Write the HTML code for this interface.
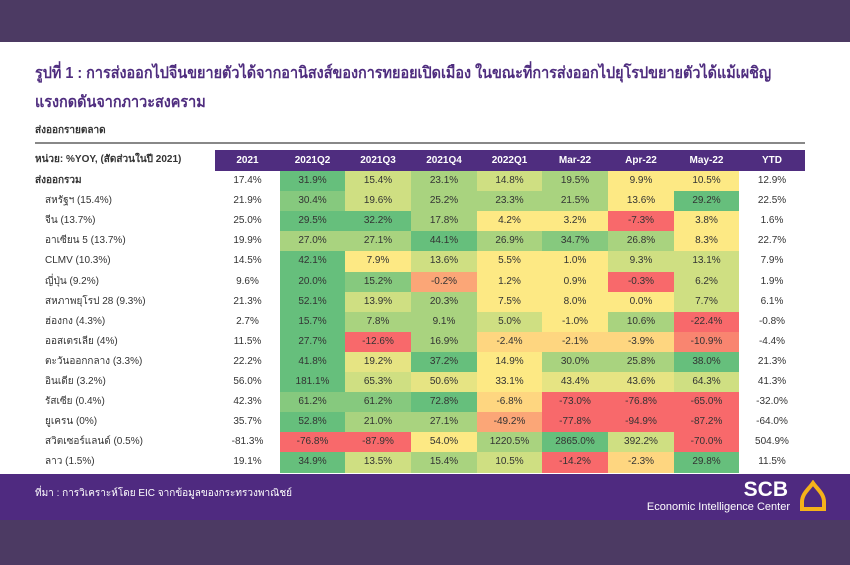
<!DOCTYPE html>
<html><head><meta charset="utf-8"><style>
body{margin:0;width:850px;height:565px;position:relative;background:#fff;font-family:"Liberation Sans","Noto Sans CJK SC",sans-serif;overflow:hidden}
.top{position:absolute;left:0;top:0;width:850px;height:42px;background:#4c3a63}
.bot{position:absolute;left:0;top:520px;width:850px;height:45px;background:#4c3a63}
.foot{position:absolute;left:0;top:474px;width:850px;height:46px;background:#4f2a80;color:#fff}
.t{position:absolute;left:35px;color:#4f2d7f;font-size:16px;font-weight:bold;white-space:nowrap;transform:scaleX(0.9);transform-origin:left top}
.hdr{position:absolute;left:215px;top:150px;width:590px;height:21px;background:#4f2d7f}
.c{position:absolute;height:20px;line-height:20px;text-align:center;font-size:10px;color:#333}
.h{color:#fff;font-weight:bold;line-height:21px;height:21px}
.lab{position:absolute;font-size:10px;color:#333;line-height:20px;white-space:nowrap}
</style></head><body>
<div class="top"></div>
<div class="t" style="top:61px">รูปที่ 1 : การส่งออกไปจีนขยายตัวได้จากอานิสงส์ของการทยอยเปิดเมือง ในขณะที่การส่งออกไปยุโรปขยายตัวได้แม้เผชิญ</div>
<div class="t" style="top:90px">แรงกดดันจากภาวะสงคราม</div>
<div class="lab" style="left:35px;top:121px;font-weight:bold">ส่งออกรายตลาด</div>
<div style="position:absolute;left:35px;top:142px;width:770px;height:2px;background:#888"></div>
<div class="lab" style="left:35px;top:150px;font-weight:bold">หน่วย: %YOY, (สัดส่วนในปี 2021)</div>
<div class="hdr"></div>
<div id="tb"></div>
<div class="foot">
<div style="position:absolute;left:35px;top:12px;font-size:10px">ที่มา : การวิเคราะห์โดย EIC จากข้อมูลของกระทรวงพาณิชย์</div>
<div style="position:absolute;right:62px;top:4px;font-size:21px;font-weight:bold">SCB</div>
<div style="position:absolute;right:60px;top:27px;font-size:11px">Economic Intelligence Center</div>
<svg style="position:absolute;left:796px;top:6px" width="34" height="34" viewBox="0 0 34 34"><path d="M17 3 C12 10 6 14 6 22 L6 29 L28 29 L28 22 C28 14 22 10 17 3 Z" fill="none" stroke="#f5b21a" stroke-width="4"/></svg>
</div>
<div class="bot"></div>
<script>
var xs=[215,280,345,411,477,542,608,674,739,805];
var hd=["2021","2021Q2","2021Q3","2021Q4","2022Q1","Mar-22","Apr-22","May-22","YTD"];
var C={G3:"#66bf7c",G2:"#86c97e",G1:"#a9d37f",L:"#cfdf82",L2:"#e6e483",Y:"#fde984",O:"#fed680",O2:"#fba677",R:"#f8696b",R2:"#f98570"};
var rows=[
["ส่งออกรวม",35,"17.4%",[["31.9%","G3"],["15.4%","L"],["23.1%","G1"],["14.8%","L"],["19.5%","G1"],["9.9%","Y"],["10.5%","Y"]],"12.9%"],
["สหรัฐฯ (15.4%)",45,"21.9%",[["30.4%","G2"],["19.6%","L"],["25.2%","G1"],["23.3%","G1"],["21.5%","G1"],["13.6%","Y"],["29.2%","G3"]],"22.5%"],
["จีน (13.7%)",45,"25.0%",[["29.5%","G3"],["32.2%","G3"],["17.8%","G1"],["4.2%","Y"],["3.2%","Y"],["-7.3%","R"],["3.8%","Y"]],"1.6%"],
["อาเซียน 5 (13.7%)",45,"19.9%",[["27.0%","G1"],["27.1%","G1"],["44.1%","G3"],["26.9%","G1"],["34.7%","G2"],["26.8%","G1"],["8.3%","Y"]],"22.7%"],
["CLMV (10.3%)",45,"14.5%",[["42.1%","G3"],["7.9%","Y"],["13.6%","L"],["5.5%","Y"],["1.0%","Y"],["9.3%","L"],["13.1%","L"]],"7.9%"],
["ญี่ปุ่น (9.2%)",45,"9.6%",[["20.0%","G3"],["15.2%","G2"],["-0.2%","O2"],["1.2%","Y"],["0.9%","Y"],["-0.3%","R"],["6.2%","L"]],"1.9%"],
["สหภาพยุโรป 28 (9.3%)",45,"21.3%",[["52.1%","G3"],["13.9%","L"],["20.3%","G1"],["7.5%","Y"],["8.0%","Y"],["0.0%","Y"],["7.7%","L"]],"6.1%"],
["ฮ่องกง (4.3%)",45,"2.7%",[["15.7%","G3"],["7.8%","G1"],["9.1%","G1"],["5.0%","L"],["-1.0%","Y"],["10.6%","G1"],["-22.4%","R"]],"-0.8%"],
["ออสเตรเลีย (4%)",45,"11.5%",[["27.7%","G3"],["-12.6%","R"],["16.9%","G1"],["-2.4%","O"],["-2.1%","O"],["-3.9%","O"],["-10.9%","R2"]],"-4.4%"],
["ตะวันออกกลาง (3.3%)",45,"22.2%",[["41.8%","G3"],["19.2%","L2"],["37.2%","G3"],["14.9%","Y"],["30.0%","G1"],["25.8%","G1"],["38.0%","G3"]],"21.3%"],
["อินเดีย (3.2%)",45,"56.0%",[["181.1%","G3"],["65.3%","L"],["50.6%","L2"],["33.1%","Y"],["43.4%","L2"],["43.6%","L2"],["64.3%","L"]],"41.3%"],
["รัสเซีย (0.4%)",45,"42.3%",[["61.2%","G2"],["61.2%","G2"],["72.8%","G3"],["-6.8%","O"],["-73.0%","R"],["-76.8%","R"],["-65.0%","R"]],"-32.0%"],
["ยูเครน (0%)",45,"35.7%",[["52.8%","G3"],["21.0%","G1"],["27.1%","G1"],["-49.2%","O2"],["-77.8%","R"],["-94.9%","R"],["-87.2%","R"]],"-64.0%"],
["สวิตเซอร์แลนด์ (0.5%)",45,"-81.3%",[["-76.8%","R"],["-87.9%","R"],["54.0%","Y"],["1220.5%","G1"],["2865.0%","G3"],["392.2%","L"],["-70.0%","R"]],"504.9%"],
["ลาว (1.5%)",45,"19.1%",[["34.9%","G3"],["13.5%","L"],["15.4%","G1"],["10.5%","L"],["-14.2%","R"],["-2.3%","O"],["29.8%","G3"]],"11.5%"]
];
var h="";
for(var i=0;i<9;i++)h+='<div class="c h" style="left:'+xs[i]+'px;top:150px;width:'+(xs[i+1]-xs[i])+'px">'+hd[i]+'</div>';
rows.forEach(function(r,k){var y=171+k*20.1;
h+='<div class="lab" style="left:'+r[1]+'px;top:'+y+'px;'+(k==0?'font-weight:bold':'')+'">'+r[0]+'</div>';
h+='<div class="c" style="left:215px;top:'+y+'px;width:65px">'+r[2]+'</div>';
r[3].forEach(function(v,j){h+='<div class="c" style="left:'+xs[j+1]+'px;top:'+y+'px;width:'+(xs[j+2]-xs[j+1])+'px;height:20.5px;background:'+C[v[1]]+'">'+v[0]+'</div>';});
h+='<div class="c" style="left:739px;top:'+y+'px;width:66px">'+r[4]+'</div>';});
document.getElementById("tb").innerHTML=h;
</script>
</body></html>
